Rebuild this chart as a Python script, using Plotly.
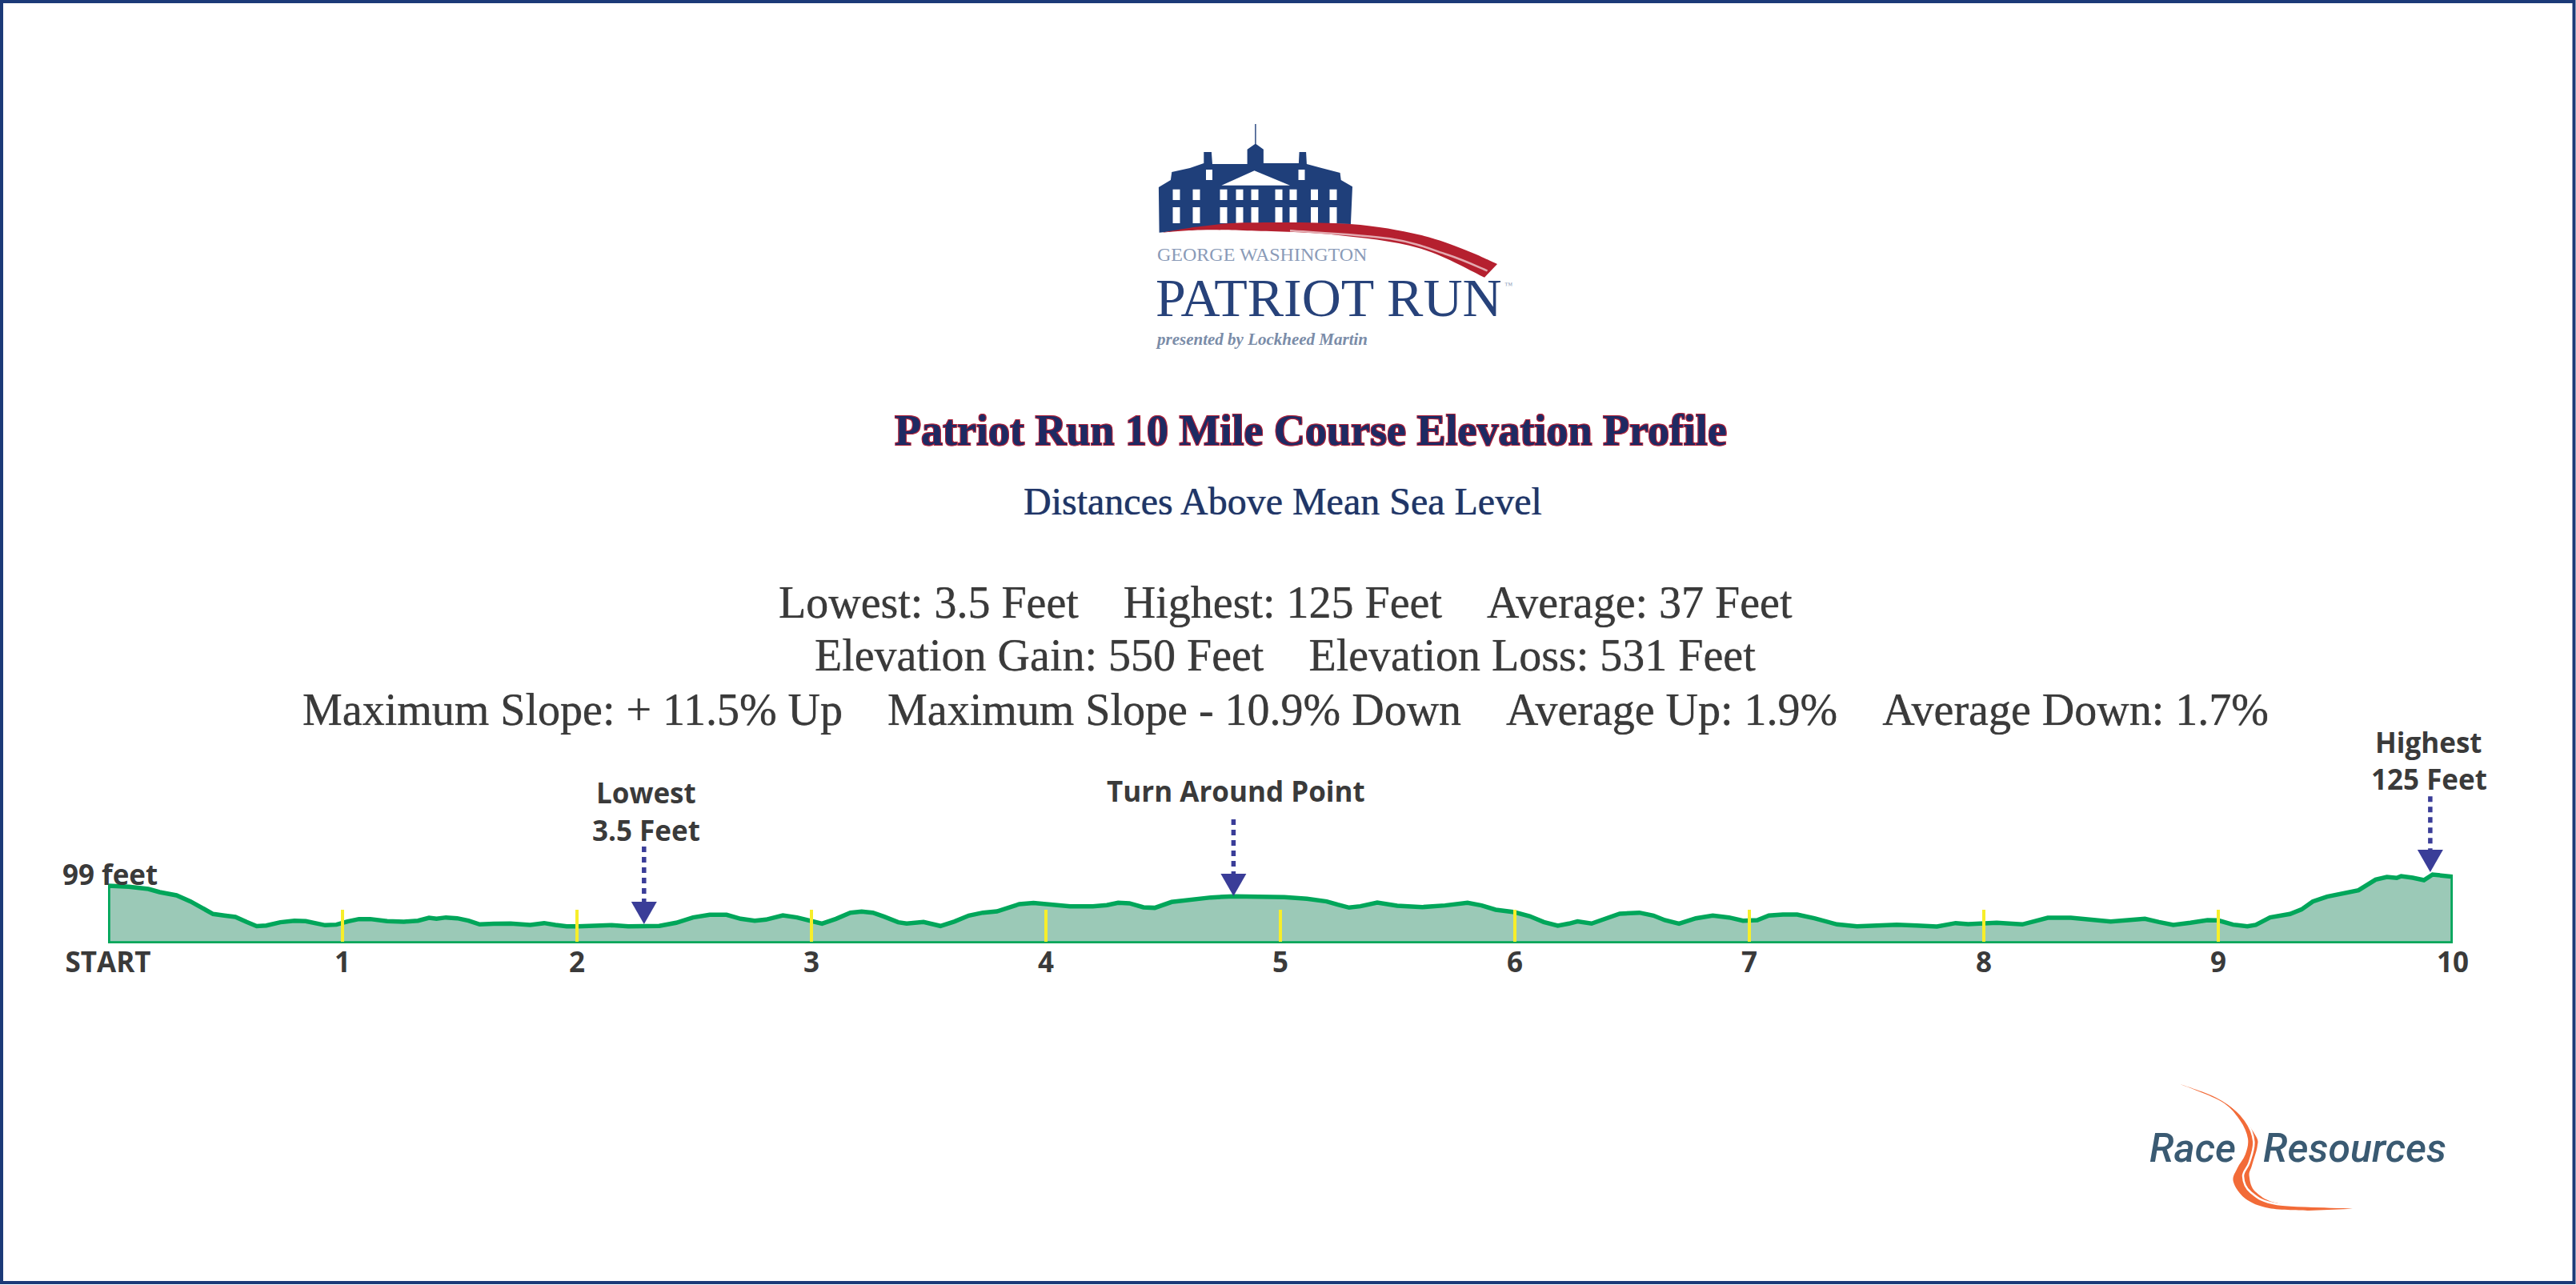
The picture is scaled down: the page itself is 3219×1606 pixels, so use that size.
import plotly.graph_objects as go

W, H = 3219, 1606

# ---------- data ----------
miles = [0.0, 0.089, 0.172, 0.22, 0.292, 0.352, 0.412, 0.448, 0.496, 0.543, 0.591, 0.634, 0.675, 0.735, 0.795, 0.843,
         0.926, 0.974, 1.022, 1.07, 1.118, 1.19, 1.262, 1.322, 1.369, 1.401, 1.441, 1.489, 1.537, 1.585, 1.645, 1.717,
         1.8, 1.86, 1.908, 1.956, 2.004, 2.076, 2.147, 2.219, 2.291, 2.351, 2.423, 2.495, 2.566, 2.638, 2.698, 2.758,
         2.806, 2.878, 2.938, 2.997, 3.045, 3.105, 3.166, 3.214, 3.262, 3.31, 3.37, 3.406, 3.478, 3.55, 3.611, 3.671,
         3.731, 3.791, 3.839, 3.887, 3.947, 4.019, 4.103, 4.2, 4.26, 4.308, 4.356, 4.416, 4.464, 4.536, 4.608, 4.704,
         4.8, 4.897, 5.017, 5.113, 5.197, 5.245, 5.293, 5.341, 5.413, 5.498, 5.606, 5.702, 5.798, 5.858, 5.918, 5.998,
         6.063, 6.123, 6.183, 6.231, 6.267, 6.327, 6.387, 6.447, 6.531, 6.591, 6.639, 6.7, 6.772, 6.844, 6.913, 6.973,
         7.034, 7.083, 7.143, 7.204, 7.277, 7.374, 7.459, 7.544, 7.629, 7.714, 7.8, 7.88, 7.933, 8.055, 8.164, 8.213,
         8.273, 8.371, 8.468, 8.541, 8.614, 8.687, 8.747, 8.808, 8.881, 8.954, 9.0, 9.063, 9.124, 9.16, 9.221, 9.306,
         9.355, 9.403, 9.464, 9.598, 9.671, 9.719, 9.761, 9.78, 9.829, 9.877, 9.914, 9.999, 10.0]
elevation = [99, 96.4, 91.4, 83.9, 76.5, 62.1, 42.2, 32.8, 29.1, 26, 14.1, 4.5, 6, 13.5, 17.2, 16,
             6.6, 7.9, 15.4, 21, 21, 16, 14.8, 17.2, 24.1, 21.6, 24.7, 22.8, 17.2, 8.5, 9.8, 10.4,
             7.3, 11.6, 7.3, 4, 4, 6, 6.6, 4, 3.5, 4.8, 12.3, 24.7, 31, 31, 21.6, 17.2,
             19.7, 29.7, 24.7, 15.4, 10.4, 21.6, 35.9, 38.4, 35.9, 26.6, 13.5, 10.4, 14.1, 4.8, 15.4, 29.1,
             35.9, 39, 46.5, 55.9, 58.4, 54.6, 50.9, 50.9, 53.4, 59, 57.8, 48.4, 47.2, 60.9, 66.5, 71.5,
             74, 74, 72.1, 68.4, 62.1, 54.6, 47.8, 50.9, 59.6, 52.1, 49, 52.8, 59, 52.8, 42.8, 37.2,
             27.8, 14.1, 5.4, 10.4, 15.4, 10.4, 21.6, 33.4, 35.9, 29.1, 18.5, 10.4, 22.8, 29.1, 24.7, 17.2,
             18.5, 29.1, 31.6, 31.6, 22.8, 8.5, 4, 4.8, 7.9, 6, 3.6, 11.6, 9.1, 12.3, 8.5, 15.4,
             24.1, 24.1, 17.8, 15.4, 18.5, 21.6, 14.1, 7.3, 12.3, 18.5, 17.9, 7.9, 4, 7.3, 24.7, 32.8,
             43.4, 62.1, 73.4, 88.3, 113.2, 119.5, 117, 121.3, 117.6, 112, 125, 120.1, 120]
baseline_feet = -35.8
axis_top_feet = 486
tick_miles = [0, 1, 2, 3, 4, 5, 6, 7, 8, 9, 10]
tick_labels = ["START", "1", "2", "3", "4", "5", "6", "7", "8", "9", "10"]
mile_marks = [1, 2, 3, 4, 5, 6, 7, 8, 9]
mile_mark_top = 42.8
mile_mark_bottom = -32

callout_miles = [2.286, 4.80, 9.904]
callout_tail = [190.5, 254, 308]
callout_neck = [61.5, 127, 183]
callout_tip = [9.1, 74.6, 130.7]
head_half_width = 0.0546

title = "Patriot Run 10 Mile Course Elevation Profile"
subtitle = "Distances Above Mean Sea Level"
NB = "\u00a0\u00a0\u00a0\u00a0"
stats = [f"Lowest: 3.5 Feet{NB}Highest: 125 Feet{NB}Average: 37 Feet",
         f"Elevation Gain: 550 Feet{NB}Elevation Loss: 531 Feet",
         f"Maximum Slope: + 11.5% Up{NB}Maximum Slope - 10.9% Down{NB}Average Up: 1.9%{NB}Average Down: 1.7%"]
labels = [("99 feet", 137, 1092), ("Lowest", 807, 990), ("3.5 Feet", 807, 1037),
          ("Turn Around Point", 1544, 988), ("Highest", 3035, 927), ("125 Feet", 3035, 973)]

# ---------- colours ----------
NAVY = "#1b3a78"
GREEN = "#00a65a"
FILL = "#9bc9b7"
YELLOW = "#f7ee2a"
ARROW = "#3a3d98"
TEXT = "#3a3a3a"

fig = go.Figure()
fig.add_trace(go.Scatter(
    x=[0] + miles + [10, 0], y=[baseline_feet] + elevation + [baseline_feet, baseline_feet],
    mode="lines", fill="toself", fillcolor=FILL, line=dict(color=GREEN, width=5.5),
    hoverinfo="skip", showlegend=False, cliponaxis=False))
mx, my = [], []
for m in mile_marks:
    mx += [m, m, None]
    my += [mile_mark_bottom, mile_mark_top, None]
fig.add_trace(go.Scatter(x=mx, y=my, mode="lines", line=dict(color=YELLOW, width=4),
                         hoverinfo="skip", showlegend=False, cliponaxis=False))
for cm, t, n, tip in zip(callout_miles, callout_tail, callout_neck, callout_tip):
    fig.add_trace(go.Scatter(x=[cm, cm], y=[t, n], mode="lines",
                             line=dict(color=ARROW, width=5.5, dash="7px,6px"),
                             hoverinfo="skip", showlegend=False, cliponaxis=False))
    fig.add_trace(go.Scatter(x=[cm - head_half_width, cm + head_half_width, cm, cm - head_half_width],
                             y=[n, n, tip, n], mode="lines", fill="toself", fillcolor=ARROW,
                             line=dict(color=ARROW, width=0),
                             hoverinfo="skip", showlegend=False, cliponaxis=False))


def px(x):
    return x / W


def py(y):
    return 1 - y / H


def poly(pts, close=True):
    s = "M" + " L".join(f"{px(x):.5f},{py(y):.5f}" for x, y in pts)
    return s + (" Z" if close else "")


def smooth(pts, close=True):
    s = f"M{px(pts[0][0]):.5f},{py(pts[0][1]):.5f}"
    n = len(pts)
    for i in range(n - 1):
        p0 = pts[max(i - 1, 0)]
        p1 = pts[i]
        p2 = pts[i + 1]
        p3 = pts[min(i + 2, n - 1)]
        c1 = (p1[0] + (p2[0] - p0[0]) / 6, p1[1] + (p2[1] - p0[1]) / 6)
        c2 = (p2[0] - (p3[0] - p1[0]) / 6, p2[1] - (p3[1] - p1[1]) / 6)
        s += (f" C{px(c1[0]):.5f},{py(c1[1]):.5f} {px(c2[0]):.5f},{py(c2[1]):.5f}"
              f" {px(p2[0]):.5f},{py(p2[1]):.5f}")
    return s + (" Z" if close else "")


shapes = []


def add_path(path, fill=None, line=None, width=0):
    shapes.append(dict(type="path", xref="paper", yref="paper", path=path, layer="above",
                       fillcolor=fill if fill else "rgba(0,0,0,0)",
                       line=dict(color=line if line else "rgba(0,0,0,0)", width=width)))


# frame
shapes.append(dict(type="rect", xref="paper", yref="paper", x0=px(2), x1=px(W - 2.5), y0=py(H - 3), y1=py(2),
                   line=dict(color=NAVY, width=4), fillcolor="rgba(0,0,0,0)", layer="below"))

# Patriot Run logo: building
BLUE = "#1f3f7a"
building = [(1448.6, 290.7), (1447.9, 234), (1462.9, 225), (1464.3, 215), (1487, 210), (1504.3, 204), (1504.3, 190),
            (1513.9, 190), (1515, 205), (1558.6, 205), (1558.6, 186.7), (1568.2, 180), (1568.2, 155), (1569.6, 155),
            (1569.6, 180), (1578.9, 186.7), (1578.9, 204), (1622.9, 204), (1623.6, 190), (1632.1, 190), (1632.9, 205),
            (1651.4, 210), (1674.6, 216), (1675.7, 225), (1690, 233.3), (1687.9, 280), (1594, 278.3), (1522.9, 282.7)]
add_path(poly(building), fill=BLUE)
add_path(poly([(1526.4, 231.7), (1567.5, 213.3), (1612, 231.7)]), fill="white")
for cx in [1470, 1495, 1529, 1549, 1568, 1598, 1616, 1642.5, 1666]:
    add_path(poly([(cx - 4.5, 236.7), (cx + 4.5, 236.7), (cx + 4.5, 250), (cx - 4.5, 250)]), fill="white")
    add_path(poly([(cx - 4.5, 259), (cx + 4.5, 259), (cx + 4.5, 279), (cx - 4.5, 279)]), fill="white")
for cx in [1511, 1626.5]:
    add_path(poly([(cx - 4, 212), (cx + 4, 212), (cx + 4, 225), (cx - 4, 225)]), fill="white")
swoosh_top = [(1451.4, 290.7), (1500, 283), (1558.6, 278.3), (1687, 280), (1772.9, 293.3), (1830, 312), (1871, 330)]
swoosh_bot = [(1855, 346.7), (1772.9, 310), (1665.7, 293.3), (1558.6, 288.3), (1500, 287.5), (1451.4, 290.7)]
add_path(smooth(swoosh_top, close=False) + " L" + smooth(swoosh_bot, close=True)[1:], fill="#b5202f")
add_path(smooth([(1612, 288.3), (1737, 298.3), (1808.6, 318.3), (1858.6, 338.3)], close=False),
         line="#e3aab0", width=2.5)

# Race Resources swoosh
orange_a = [(2724.5, 1355), (2769, 1371.7), (2799, 1393), (2819, 1420), (2820.7, 1433), (2814, 1456.7), (2810.7, 1470),
            (2819, 1490), (2852, 1505), (2940, 1510.7)]
orange_b = [(2885, 1513), (2835.6, 1510), (2805.7, 1498), (2790.8, 1476.7),
            (2795.8, 1460), (2805.7, 1443), (2809, 1423), (2799, 1400), (2776, 1376.7), (2724.5, 1355)]
add_path(smooth(orange_a, close=False) + " L" + smooth(orange_b, close=True)[1:], fill="#f26b38")
add_path(smooth([(2742.7, 1357.3), (2779, 1375), (2805.7, 1400), (2816.3, 1426.7), (2810.7, 1453), (2803, 1470),
                 (2812.4, 1490), (2845.5, 1505), (2935, 1508.7)], close=False), line="white", width=2.5)

ann = []


def text(s, x, y, size, color, family="Liberation Serif", weight=None, style=None, shadow=None, anchor="center"):
    f = dict(family=family, size=size, color=color)
    if weight:
        f["weight"] = weight
    if style:
        f["style"] = style
    if shadow:
        f["shadow"] = shadow
    ann.append(dict(text=s, x=px(x), y=py(y), xref="paper", yref="paper", showarrow=False,
                    xanchor=anchor, yanchor="middle", font=f))


text(title, 1638, 538, 54, "#1d2a63", weight=700,
     shadow="1px 1px 0 #b0243c, -1px -1px 0 #b0243c, 1px -1px 0 #b0243c, -1px 1px 0 #b0243c")
text(subtitle, 1603, 626, 48, "#1f3568", shadow="0 0 1px #1f3568")
for s, y in zip(stats, [753, 819, 887]):
    text(s, 1606, y, 56, TEXT, shadow="0 0 1px #3a3a3a")
for s, x, y in labels:
    text(s, x, y, 35, TEXT, family="Open Sans", weight=700)

# logo text
text("GEORGE WASHINGTON", 1444, 318, 24, "#8a9bb8", anchor="left")
text("PATRIOT RUN", 1442, 372, 68, "#27427a", anchor="left")
text("\u2122", 1878, 356, 10, "#8a9bb8", anchor="left")
text("presented by Lockheed Martin", 1442, 424, 21, "#7a8ca8", anchor="left", style="italic", weight=700)
text("Race", 2684, 1435, 50, "#3a5a72", family="Roboto", style="italic", weight=500, anchor="left")
text("Resources", 2826, 1435, 50, "#3a5a72", family="Roboto", style="italic", weight=500, anchor="left")

fig.update_layout(
    width=W, height=H, margin=dict(l=0, r=0, t=0, b=0), paper_bgcolor="white", plot_bgcolor="rgba(0,0,0,0)",
    showlegend=False, shapes=shapes, annotations=ann,
    xaxis=dict(domain=[135 / W, 3065 / W], range=[0, 10], tickvals=tick_miles, ticktext=tick_labels,
               showgrid=False, zeroline=False, showline=False, ticks="", ticklabelstandoff=0,
               tickfont=dict(family="Open Sans", size=35, color=TEXT, weight=700), automargin=False),
    yaxis=dict(domain=[(H - 1179) / H, (H - 900) / H], range=[baseline_feet, axis_top_feet], visible=False,
               automargin=False),
)
fig.write_html("out.html", config=dict(displayModeBar=False),
               post_script="document.body.style.margin='0';document.body.style.overflow='hidden';")
